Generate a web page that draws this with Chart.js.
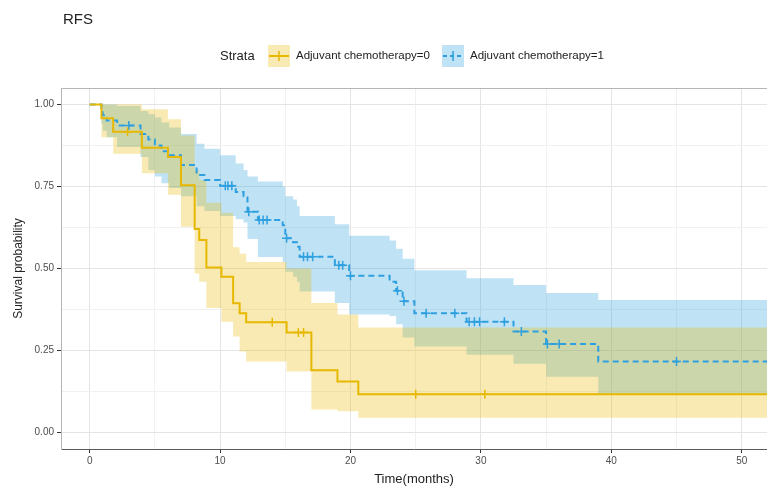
<!DOCTYPE html>
<html>
<head>
<meta charset="utf-8">
<script src="https://cdn.jsdelivr.net/npm/chart.js@4.4.1/dist/chart.umd.min.js"></script>
<style>
    body { margin: 0; background: #fff; }
    #wrap { width: 767px; height: 487px; }
</style>
</head>
<body>
<div id="wrap"><canvas id="rfsChart"></canvas></div>
<script>
// RFS - Kaplan-Meier theo nhóm hóa trị bổ trợ
const chartTitle = 'RFS';
const legendTitle = 'Strata';
const strataNames = ['Adjuvant chemotherapy=0', 'Adjuvant chemotherapy=1'];

// trục
const xTicks = [0, 5, 10, 15, 20, 25, 30, 35, 40, 45, 50];
const xTickLabels = ['0', '', '10', '', '20', '', '30', '', '40', '', '50'];
const yTicks = [0, 0.125, 0.25, 0.375, 0.5, 0.625, 0.75, 0.875, 1];
const yTickLabels = ['0.00', '', '0.25', '', '0.50', '', '0.75', '', '1.00'];

// nhóm 0 (không hóa trị)
const time0 = [0, 0.9, 1.8, 4.0, 6.0, 7.0, 8.05, 8.4, 8.95, 10.1, 11.0, 11.5, 12.0, 15.1, 17.0, 19.0, 20.6, 53];
const surv0 = [1, 0.958, 0.917, 0.868, 0.84, 0.754, 0.62, 0.587, 0.503, 0.475, 0.394, 0.364, 0.336, 0.305, 0.19, 0.156, 0.117, 0.117];
const upper0 = [1, 1, 1, 0.985, 0.955, 0.905, 0.80, 0.77, 0.70, 0.67, 0.565, 0.545, 0.52, 0.50, 0.395, 0.36, 0.32, 0.32];
const lower0 = [1, 0.90, 0.85, 0.79, 0.725, 0.627, 0.485, 0.46, 0.38, 0.338, 0.293, 0.247, 0.217, 0.186, 0.07, 0.065, 0.045, 0.045];
const censor0 = [2.9, 14.0, 16.0, 16.4, 25.0, 30.3];

// nhóm 1 (có hóa trị)
const time1 = [0, 0.9, 1.0, 1.3, 2.1, 3.9, 4.5, 5.0, 5.5, 6.1, 7.0, 8.2, 8.8, 10.0, 11.2, 11.8, 12.1, 12.9, 14.8, 15.0, 15.6, 15.9, 16.1, 18.8, 19.9, 23.0, 23.5, 24.0, 24.9, 28.9, 32.5, 35.0, 39.0, 53];
const surv1 = [1, 0.98, 0.967, 0.951, 0.936, 0.91, 0.893, 0.875, 0.857, 0.845, 0.815, 0.785, 0.77, 0.752, 0.733, 0.72, 0.673, 0.648, 0.632, 0.592, 0.58, 0.566, 0.536, 0.51, 0.478, 0.46, 0.432, 0.40, 0.364, 0.338, 0.308, 0.27, 0.217, 0.217];
const upper1 = [1, 1, 1, 1, 0.995, 0.98, 0.97, 0.96, 0.945, 0.93, 0.91, 0.88, 0.865, 0.845, 0.82, 0.80, 0.78, 0.765, 0.75, 0.72, 0.71, 0.69, 0.66, 0.635, 0.60, 0.585, 0.56, 0.53, 0.495, 0.47, 0.45, 0.425, 0.404, 0.404];
const lower1 = [1, 0.94, 0.92, 0.90, 0.87, 0.84, 0.80, 0.78, 0.76, 0.745, 0.72, 0.69, 0.675, 0.66, 0.65, 0.64, 0.59, 0.535, 0.52, 0.49, 0.475, 0.46, 0.43, 0.395, 0.36, 0.355, 0.33, 0.29, 0.262, 0.237, 0.21, 0.17, 0.115, 0.115];
const censor1 = [3.0, 10.4, 10.6, 10.9, 12.2, 13.0, 13.3, 13.6, 15.1, 16.4, 16.7, 17.1, 19.1, 19.4, 20.0, 23.6, 24.1, 25.8, 28.0, 29.1, 29.5, 29.9, 31.8, 33.1, 35.1, 36.0, 45.0];

const yellow = '#E7B800';
const blue = '#2E9FDF';
const yellowBand = 'rgba(231, 184, 0, 0.3)';
const blueBand = 'rgba(46, 159, 223, 0.3)';

function toPoints(times, values) {
    return times.map((t, i) => ({ x: t, y: values[i] }));
}

// giá trị sống còn tại thời điểm kiểm duyệt
function censorPoints(censors, times, values) {
    return censors.map(c => {
        let k = 0;
        for (let i = 0; i < times.length; i++) if (times[i] <= c) k = i;
        return { x: c, y: values[k] };
    });
}

function bandSet(values, color, fill) {
    return {
        data: values, fill: fill, backgroundColor: color, borderWidth: 0,
        pointRadius: 0, stepped: true, order: 3
    };
}

// khung, tiêu đề và chú thích
const decorPlugin = {
    id: 'decor',
    beforeDatasetsDraw(chart) {
        const { ctx, chartArea } = chart;
        ctx.save();
        ctx.strokeStyle = '#b5b5b5';
        ctx.lineWidth = 1;
        ctx.beginPath();
        ctx.moveTo(chartArea.left, chartArea.top + 0.5);
        ctx.lineTo(chartArea.right, chartArea.top + 0.5);
        ctx.stroke();
        ctx.restore();
    },
    afterDraw(chart) {
        const ctx = chart.ctx;
        ctx.save();
        ctx.fillStyle = '#222';
        ctx.font = '15px "Liberation Sans", Arial, sans-serif';
        ctx.textBaseline = 'middle';
        ctx.fillText(chartTitle, 63, 20);

        ctx.font = '13px "Liberation Sans", Arial, sans-serif';
        ctx.fillText(legendTitle, 220, 56);

        const keys = [
            { x: 268, band: yellowBand, line: yellow, dash: [], label: strataNames[0] },
            { x: 442, band: blueBand, line: blue, dash: [4, 3], label: strataNames[1] }
        ];
        keys.forEach(k => {
            ctx.fillStyle = k.band;
            ctx.fillRect(k.x, 45, 22, 22);
            ctx.strokeStyle = k.line;
            ctx.lineWidth = 2;
            ctx.setLineDash(k.dash);
            ctx.beginPath();
            ctx.moveTo(k.x + 1, 56);
            ctx.lineTo(k.x + 21, 56);
            ctx.stroke();
            ctx.setLineDash([]);
            ctx.lineWidth = 1.5;
            ctx.beginPath();
            ctx.moveTo(k.x + 11, 51);
            ctx.lineTo(k.x + 11, 61);
            ctx.stroke();
            ctx.fillStyle = '#222';
            ctx.font = '11.5px "Liberation Sans", Arial, sans-serif';
            ctx.fillText(k.label, k.x + 28, 56);
        });
        ctx.restore();
    }
};

const ctx = document.getElementById('rfsChart').getContext('2d');
new Chart(ctx, {
    type: 'line',
    data: {
        datasets: [
            bandSet(toPoints(time0, upper0), yellowBand, '+1'),
            bandSet(toPoints(time0, lower0), yellowBand, false),
            bandSet(toPoints(time1, upper1), blueBand, '+1'),
            bandSet(toPoints(time1, lower1), blueBand, false),
            {
                label: strataNames[0],
                data: toPoints(time0, surv0),
                borderColor: yellow, borderWidth: 2, stepped: true,
                pointRadius: 0, fill: false, order: 1
            },
            {
                label: strataNames[1],
                data: toPoints(time1, surv1),
                borderColor: blue, borderWidth: 2, borderDash: [6, 4], stepped: true,
                pointRadius: 0, fill: false, order: 1
            },
            {
                data: censorPoints(censor0, time0, surv0),
                showLine: false, pointStyle: 'cross', pointRadius: 4.5,
                borderColor: yellow, pointBorderWidth: 1.5, order: 0
            },
            {
                data: censorPoints(censor1, time1, surv1),
                showLine: false, pointStyle: 'cross', pointRadius: 4.5,
                borderColor: blue, pointBorderWidth: 1.5, order: 0
            }
        ]
    },
    options: {
        responsive: true,
        maintainAspectRatio: false,
        animation: false,
        layout: { autoPadding: false, padding: { top: 88, left: 0, right: 0, bottom: 0 } },
        scales: {
            x: {
                type: 'linear',
                min: -2.2,
                max: 51.94,
                afterFit: s => { s.height = 38; },
                afterBuildTicks: s => { s.ticks = xTicks.map(v => ({ value: v })); },
                ticks: {
                    autoSkip: false, maxRotation: 0, padding: 2,
                    color: '#4d4d4d', font: { size: 10 },
                    callback: (v, i) => xTickLabels[i]
                },
                grid: {
                    color: c => (xTickLabels[c.index] ? '#e4e4e4' : '#f1f1f1'),
                    tickColor: c => (xTickLabels[c.index] ? '#333' : 'rgba(0,0,0,0)'),
                    tickLength: 4
                },
                border: { display: true, color: '#5a5a5a', width: 1 },
                title: {
                    display: true, text: 'Time(months)', color: '#222',
                    font: { size: 13 }, padding: { top: 3, bottom: 0 }
                }
            },
            y: {
                min: -0.05,
                max: 1.05,
                afterFit: s => { s.width = 61; },
                afterBuildTicks: s => { s.ticks = yTicks.map(v => ({ value: v })); },
                ticks: {
                    autoSkip: false, padding: 3,
                    color: '#4d4d4d', font: { size: 10 },
                    callback: (v, i) => yTickLabels[i]
                },
                grid: {
                    color: c => (yTickLabels[c.index] ? '#e4e4e4' : '#f1f1f1'),
                    tickColor: c => (yTickLabels[c.index] ? '#333' : 'rgba(0,0,0,0)'),
                    tickLength: 4
                },
                border: { display: true, color: '#b5b5b5', width: 1 },
                title: {
                    display: true, text: 'Survival probability', color: '#222',
                    font: { size: 12 }, padding: { top: 11, bottom: 0 }
                }
            }
        },
        plugins: {
            legend: { display: false },
            tooltip: { enabled: false }
        }
    },
    plugins: [decorPlugin]
});
</script>
</body>
</html>
